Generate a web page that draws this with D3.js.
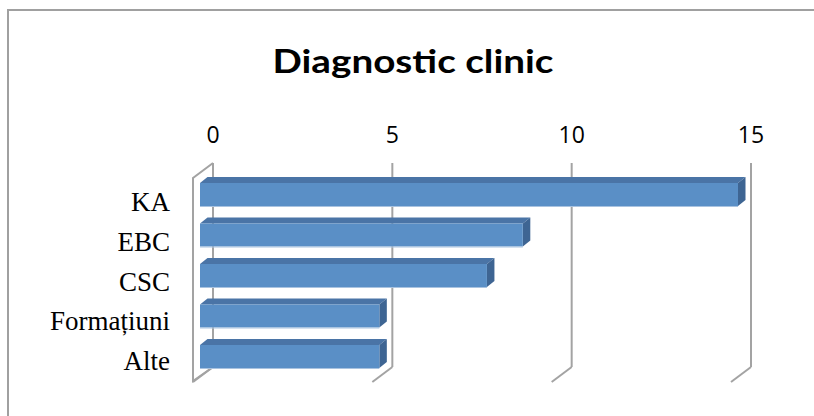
<!DOCTYPE html>
<html>
<head>
<meta charset="utf-8">
<script src="https://cdn.jsdelivr.net/npm/d3@7"></script>
<style>
  html, body { margin: 0; padding: 0; background: #fff; }
  svg { display: block; }
</style>
</head>
<body>
<script>
const title = "Diagnostic clinic";
const categories = ["KA", "EBC", "CSC", "Formațiuni", "Alte"];
const values = [15, 9, 8, 5, 5];
const tickValues = [0, 5, 10, 15];

const W = 814, H = 416;
const svg = d3.select("body").append("svg").attr("width", W).attr("height", H);

// outer border
svg.append("rect").attr("x", 8).attr("y", 10).attr("width", 820).attr("height", 420)
  .attr("fill", "#fff").attr("stroke", "#a0a0a0").attr("stroke-width", 2);

// title
svg.append("text").attr("x", 413).attr("y", 73).attr("text-anchor", "middle")
  .attr("font-family", "Lato, 'Open Sans', sans-serif").attr("font-weight", "bold")
  .attr("font-size", 33).attr("textLength", 281).attr("lengthAdjust", "spacingAndGlyphs")
  .attr("fill", "#000").text(title);

// scales
const xBack = d3.scaleLinear().domain([0, 15]).range([213, 751]);
const xFront = d3.scaleLinear().domain([0, 15]).range([200, 738]);
const yBar = d3.scalePoint().domain(categories).range([194.5, 356.5]);
const yLabel = d3.scalePoint().domain(categories).range([211, 370]);

const backTop = 163, backBottom = 367;
const depthDx = -20, depthDy = 15;
const grid = "#a3a3a3";

// left wall
svg.append("path")
  .attr("d", `M${xBack(0)},${backTop} L${xBack(0)+depthDx},${backTop+depthDy} L${xBack(0)+depthDx},${backBottom+depthDy-1} L${xBack(0)},${backBottom}`)
  .attr("fill", "none").attr("stroke", grid).attr("stroke-width", 2);

// gridlines + floor diagonals
const g = svg.append("g");
tickValues.forEach(t => {
  const x = xBack(t);
  g.append("line").attr("x1", x).attr("x2", x).attr("y1", backTop).attr("y2", backBottom)
    .attr("stroke", grid).attr("stroke-width", 2);
  g.append("line").attr("x1", x).attr("x2", x + depthDx).attr("y1", backBottom).attr("y2", backBottom + depthDy)
    .attr("stroke", grid).attr("stroke-width", 2);
});

// tick labels
svg.append("g").selectAll("text").data(tickValues).join("text")
  .attr("x", d => xBack(d)).attr("y", 143).attr("text-anchor", "middle")
  .attr("font-family", "'Open Sans', sans-serif").attr("font-size", 23).attr("fill", "#000")
  .text(d => d);

// category labels
svg.append("g").selectAll("text").data(categories).join("text")
  .attr("x", 170).attr("y", d => yLabel(d)).attr("text-anchor", "end")
  .attr("font-family", "'Liberation Serif', 'Times New Roman', serif").attr("font-size", 27)
  .attr("fill", "#000").text(d => d);

// bars (3D boxes)
const bh = 23, dx = 7.5, dy = -6;
const bars = svg.append("g").selectAll("g").data(categories.map((c, i) => ({c, v: values[i]}))).join("g");
bars.each(function(d) {
  const sel = d3.select(this);
  const x0 = xFront(0), x1 = xFront(d.v);
  const yt = yBar(d.c) - bh / 2, yb = yt + bh;
  // top face
  sel.append("path")
    .attr("d", `M${x0},${yt} L${x0+dx},${yt+dy} L${x1+dx},${yt+dy} L${x1},${yt} Z`)
    .attr("fill", "#4a74a6");
  // side face
  sel.append("path")
    .attr("d", `M${x1},${yt} L${x1+dx},${yt+dy} L${x1+dx},${yb+dy} L${x1},${yb} Z`)
    .attr("fill", "#3e6593");
  // front face
  sel.append("rect").attr("x", x0).attr("y", yt).attr("width", x1 - x0).attr("height", bh)
    .attr("fill", "#5a8fc6");
  // light bottom edge
  sel.append("line").attr("x1", x0).attr("x2", x1).attr("y1", yb + 0.5).attr("y2", yb + 0.5)
    .attr("stroke", "#a9c3e0").attr("stroke-width", 1);
});
</script>
</body>
</html>
